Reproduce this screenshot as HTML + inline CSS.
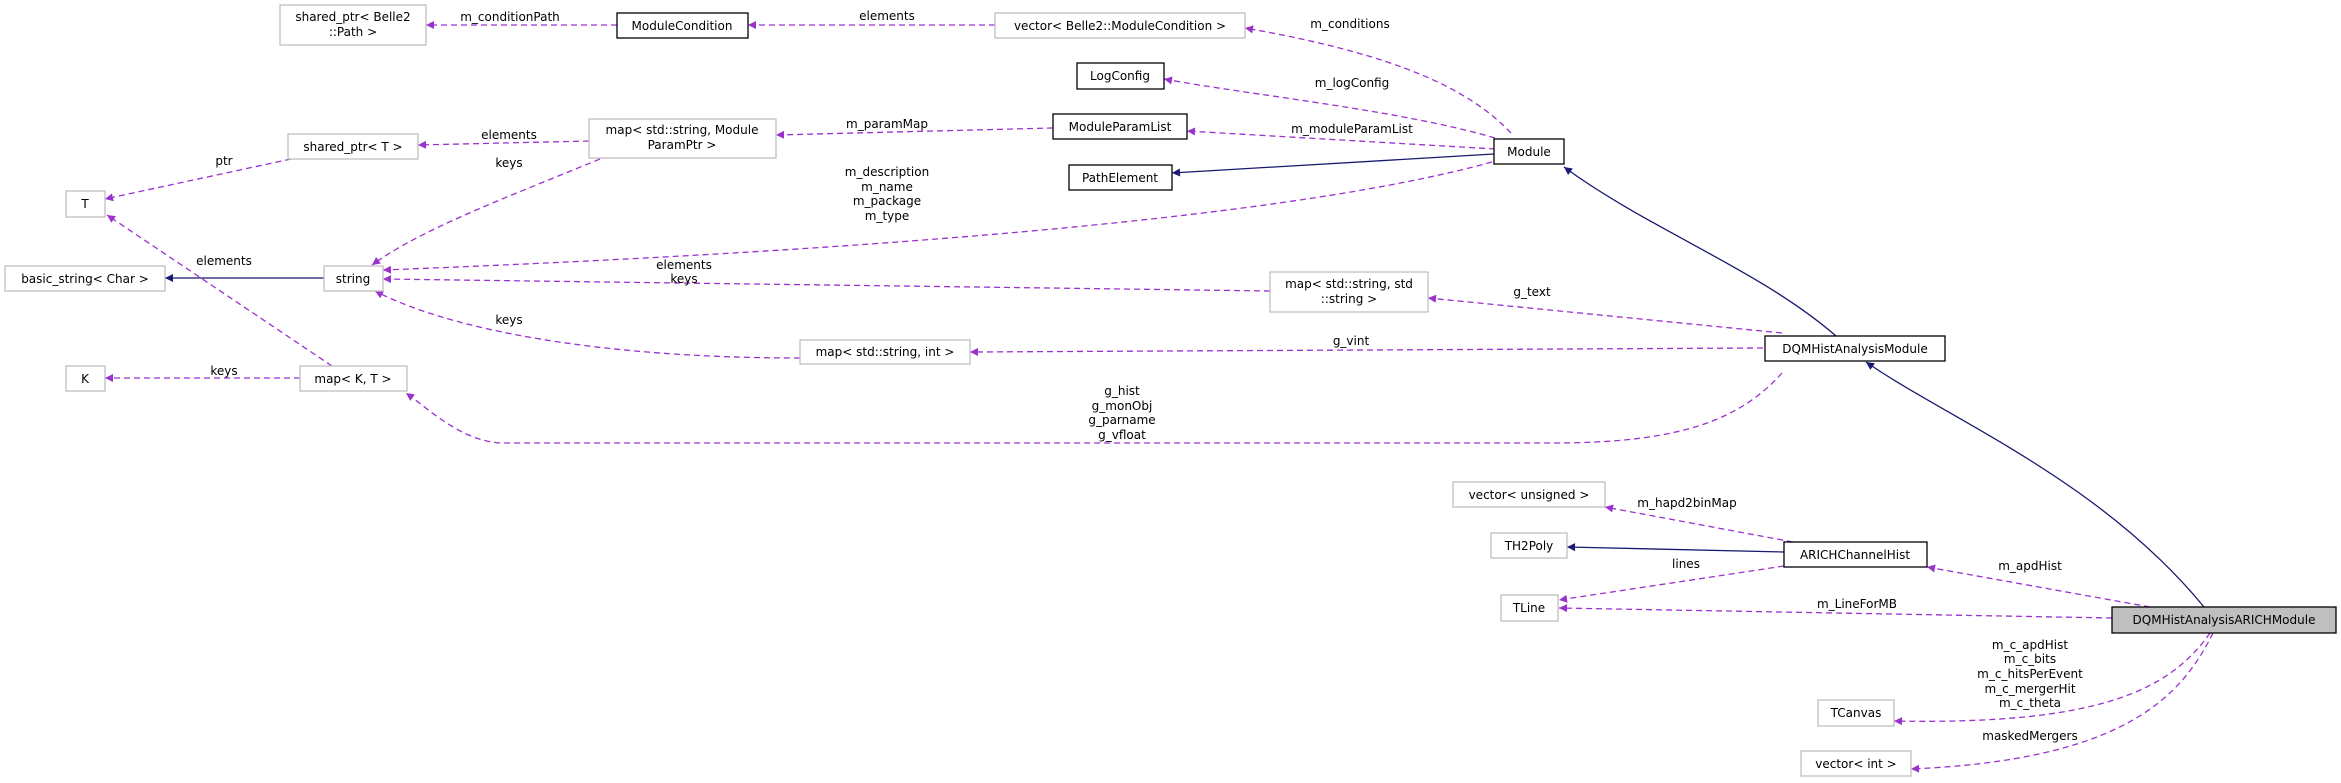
<!DOCTYPE html>
<html><head><meta charset="utf-8"><style>
html,body{margin:0;padding:0;background:#fff;}
svg{display:block;}
text{font-family:"DejaVu Sans","Liberation Sans",sans-serif;font-size:12px;fill:#000;}
.g{fill:#fff;stroke:#bfbfbf;stroke-width:1.3}
.b{fill:#fff;stroke:#000;stroke-width:1.3}
.d{fill:none;stroke:#9a32cd;stroke-width:1.3;stroke-dasharray:6,4}
.s{fill:none;stroke:#191970;stroke-width:1.3}
</style></head><body>
<svg width="2341" height="783" viewBox="0 0 2341 783" xmlns="http://www.w3.org/2000/svg">
<defs>
<marker id="p" viewBox="0 0 10 10" refX="10" refY="5" markerWidth="10" markerHeight="8" orient="auto" markerUnits="userSpaceOnUse"><path d="M0,0 L10,5 L0,10 z" fill="#9a32cd"/></marker>
<marker id="n" viewBox="0 0 10 10" refX="10" refY="5" markerWidth="10" markerHeight="8" orient="auto" markerUnits="userSpaceOnUse"><path d="M0,0 L10,5 L0,10 z" fill="#191970"/></marker>
</defs>

<!-- edges -->
<g marker-end="url(#p)">
<path class="d" d="M617,25 L426,25"/>
<path class="d" d="M995,25 L748,25"/>
<path class="d" d="M1511,133 C1470,90 1400,55 1245,28"/>
<path class="d" d="M1495,138 C1400,110 1250,95 1164,79"/>
<path class="d" d="M1053,128 L776,135"/>
<path class="d" d="M1495,149 L1187,131"/>
<path class="d" d="M589,141 L418,145"/>
<path class="d" d="M291,159 L105,199"/>
<path class="d" d="M600,159 C500,200 420,230 372,265"/>
<path class="d" d="M1492,162 C1300,215 900,250 383,270"/>
<path class="d" d="M1270,291 L383,279"/>
<path class="d" d="M800,358 C600,358 450,330 375,291"/>
<path class="d" d="M1763,348 L970,352"/>
<path class="d" d="M1782,333 L1428,298"/>
<path class="d" d="M1782,373 C1740,420 1680,443 1553,443 L500,443 C460,440 430,410 406,393"/>
<path class="d" d="M332,366 L107,215"/>
<path class="d" d="M300,378 L105,378"/>
<path class="d" d="M1793,542 L1605,507"/>
<path class="d" d="M1784,566 L1559,600"/>
<path class="d" d="M2112,618 L1559,608"/>
<path class="d" d="M2150,607 L1927,567"/>
<path class="d" d="M2210,633 C2170,690 2100,725 1894,721"/>
<path class="d" d="M2213,633 C2180,700 2120,760 1911,769"/>
</g>
<g marker-end="url(#n)">
<path class="s" d="M324,278 L165,278"/>
<path class="s" d="M1494,154 L1172,173"/>
<path class="s" d="M1836,336 C1760,270 1650,230 1564,167"/>
<path class="s" d="M1784,552 L1567,547"/>
<path class="s" d="M2204,607 C2100,480 1950,420 1866,362"/>
</g>

<!-- nodes -->
<rect class="g" x="280" y="5" width="146" height="40"/>
<text x="353" y="21" text-anchor="middle">shared_ptr&lt; Belle2</text>
<text x="353" y="36" text-anchor="middle">::Path &gt;</text>
<rect class="b" x="617" y="13" width="131" height="25"/>
<text x="682" y="30" text-anchor="middle">ModuleCondition</text>
<rect class="g" x="995" y="13" width="250" height="25"/>
<text x="1120" y="30" text-anchor="middle">vector&lt; Belle2::ModuleCondition &gt;</text>
<rect class="b" x="1077" y="63" width="87" height="26"/>
<text x="1120" y="80" text-anchor="middle">LogConfig</text>
<rect class="b" x="1053" y="114" width="134" height="25"/>
<text x="1120" y="131" text-anchor="middle">ModuleParamList</text>
<rect class="b" x="1069" y="165" width="103" height="25"/>
<text x="1120" y="182" text-anchor="middle">PathElement</text>
<rect class="b" x="1494" y="139" width="70" height="25"/>
<text x="1529" y="156" text-anchor="middle">Module</text>
<rect class="g" x="589" y="119" width="187" height="39"/>
<text x="682" y="134" text-anchor="middle">map&lt; std::string, Module</text>
<text x="682" y="149" text-anchor="middle">ParamPtr &gt;</text>
<rect class="g" x="288" y="134" width="130" height="25"/>
<text x="353" y="151" text-anchor="middle">shared_ptr&lt; T &gt;</text>
<rect class="g" x="66" y="191" width="39" height="26"/>
<text x="85" y="208" text-anchor="middle">T</text>
<rect class="g" x="5" y="266" width="160" height="25"/>
<text x="85" y="283" text-anchor="middle">basic_string&lt; Char &gt;</text>
<rect class="g" x="324" y="266" width="59" height="25"/>
<text x="353" y="283" text-anchor="middle">string</text>
<rect class="g" x="66" y="366" width="39" height="25"/>
<text x="85" y="383" text-anchor="middle">K</text>
<rect class="g" x="300" y="366" width="107" height="25"/>
<text x="353" y="383" text-anchor="middle">map&lt; K, T &gt;</text>
<rect class="g" x="1270" y="272" width="158" height="40"/>
<text x="1349" y="288" text-anchor="middle">map&lt; std::string, std</text>
<text x="1349" y="303" text-anchor="middle">::string &gt;</text>
<rect class="g" x="800" y="340" width="170" height="24"/>
<text x="885" y="356" text-anchor="middle">map&lt; std::string, int &gt;</text>
<rect class="b" x="1765" y="336" width="180" height="25"/>
<text x="1855" y="353" text-anchor="middle">DQMHistAnalysisModule</text>
<rect class="g" x="1453" y="482" width="152" height="25"/>
<text x="1529" y="499" text-anchor="middle">vector&lt; unsigned &gt;</text>
<rect class="g" x="1491" y="533" width="76" height="25"/>
<text x="1529" y="550" text-anchor="middle">TH2Poly</text>
<rect class="b" x="1784" y="542" width="143" height="25"/>
<text x="1855" y="559" text-anchor="middle">ARICHChannelHist</text>
<rect class="g" x="1501" y="595" width="57" height="26"/>
<text x="1529" y="612" text-anchor="middle">TLine</text>
<rect x="2112" y="607" width="224" height="26" fill="#bfbfbf" stroke="#000" stroke-width="1.3"/>
<text x="2224" y="624" text-anchor="middle">DQMHistAnalysisARICHModule</text>
<rect class="g" x="1818" y="700" width="76" height="26"/>
<text x="1856" y="717" text-anchor="middle">TCanvas</text>
<rect class="g" x="1801" y="751" width="110" height="25"/>
<text x="1856" y="768" text-anchor="middle">vector&lt; int &gt;</text>

<!-- labels -->
<g text-anchor="middle">
<text x="510" y="21">m_conditionPath</text>
<text x="887" y="20">elements</text>
<text x="1350" y="28">m_conditions</text>
<text x="1352" y="87">m_logConfig</text>
<text x="887" y="128">m_paramMap</text>
<text x="1352" y="133">m_moduleParamList</text>
<text x="509" y="139">elements</text>
<text x="224" y="165">ptr</text>
<text x="509" y="167">keys</text>
<text x="887" y="176">m_description</text>
<text x="887" y="191">m_name</text>
<text x="887" y="205">m_package</text>
<text x="887" y="220">m_type</text>
<text x="224" y="265">elements</text>
<text x="684" y="269">elements</text>
<text x="684" y="283">keys</text>
<text x="509" y="324">keys</text>
<text x="1532" y="296">g_text</text>
<text x="1351" y="345">g_vint</text>
<text x="224" y="375">keys</text>
<text x="1122" y="395">g_hist</text>
<text x="1122" y="410">g_monObj</text>
<text x="1122" y="424">g_parname</text>
<text x="1122" y="439">g_vfloat</text>
<text x="1687" y="507">m_hapd2binMap</text>
<text x="1686" y="568">lines</text>
<text x="2030" y="570">m_apdHist</text>
<text x="1857" y="608">m_LineForMB</text>
<text x="2030" y="649">m_c_apdHist</text>
<text x="2030" y="663">m_c_bits</text>
<text x="2030" y="678">m_c_hitsPerEvent</text>
<text x="2030" y="693">m_c_mergerHit</text>
<text x="2030" y="707">m_c_theta</text>
<text x="2030" y="740">maskedMergers</text>
</g>
</svg>
</body></html>
